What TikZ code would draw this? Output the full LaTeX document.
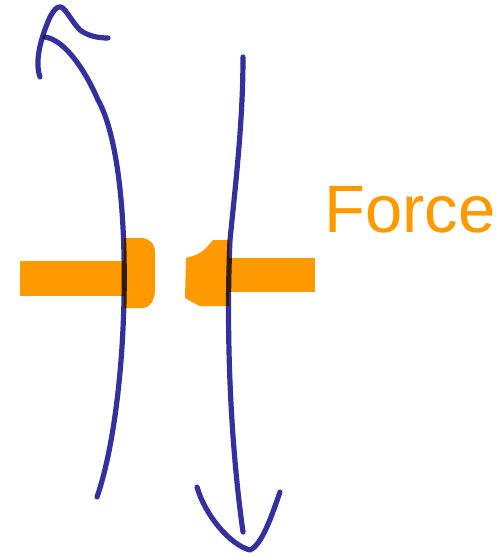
\documentclass[tikz,border=0pt]{standalone}
\usepackage{fontspec}
\setmainfont{Liberation Sans}
\definecolor{penblue}{RGB}{52,48,160}
\definecolor{penorange}{RGB}{255,153,0}
\tikzset{
  pen/.style={draw=penblue, line width=5.2pt, line cap=round, line join=round},
  blob/.style={fill=penorange, draw=none},
}
\begin{document}
\begin{tikzpicture}[x=1pt,y=-1pt]
\useasboundingbox (0,0) rectangle (503,557);
% orange force arrows
\fill[blob] (20,261) rectangle (126,296);
\fill[blob] (124,238) -- (143,238) .. controls (152,240) and (155,245) .. (155,252)
  -- (155,290) .. controls (155,300) and (150,308) .. (142,308) -- (124,308) -- cycle;
\fill[blob] (229,240) -- (213,240) .. controls (208,246) and (203,252) .. (196,255)
  -- (186,258) -- (185,298) -- (192,302) -- (200,306) -- (229,306) -- cycle;
\fill[blob] (227,258) rectangle (315,292);
% blue strokes
\begin{scope}[blend mode=multiply]
\draw[pen] (97,497) .. controls (110,460) and (122,390) .. (124,300)
  .. controls (126,200) and (115,130) .. (98,100)
  .. controls (85,70) and (65,40) .. (45,37);
\draw[pen] (40,77) .. controls (34,60) and (42,35) .. (50,17)
  .. controls (54,10) and (57,6) .. (61,7)
  .. controls (66,9) and (72,22) .. (80,30)
  .. controls (88,36) and (98,38) .. (108,38);
\draw[pen] (243,57) .. controls (243,120) and (236,180) .. (230,240)
  .. controls (226,330) and (230,440) .. (243,532);
\draw[pen] (197,487) .. controls (205,515) and (230,545) .. (250,550)
  .. controls (262,545) and (272,515) .. (280,492);
\end{scope}
\node[text=penorange, font=\fontsize{67}{67}\selectfont, anchor=base west, inner sep=0pt] (force) at (324,232) {Force};
\end{tikzpicture}
\end{document}
